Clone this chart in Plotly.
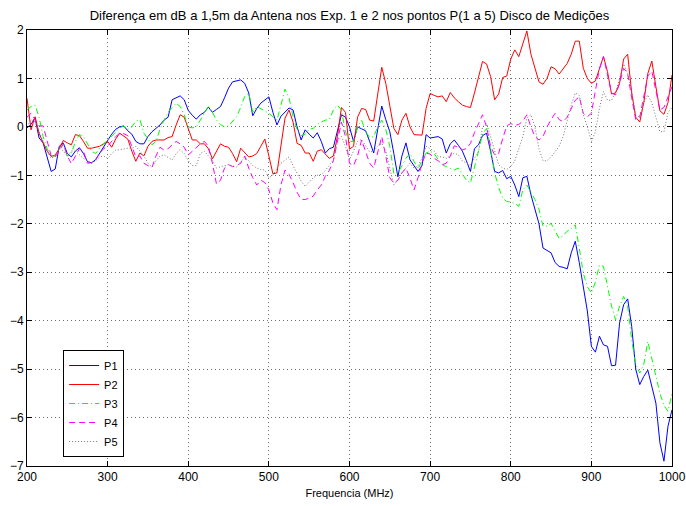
import plotly.graph_objects as go

# Frequency grid (MHz), 5 MHz steps
freq = list(range(200, 1001, 5))

p1 = [-0.02, 0.05, 0.19, -0.23, -0.33, -0.6, -0.92, -0.87, -0.4, -0.33,
      -0.55, -0.62, -0.5, -0.43, -0.55, -0.72, -0.74, -0.68, -0.55, -0.42,
      -0.3, -0.15, -0.05, 0.0, 0.02, -0.08, -0.15, -0.3, -0.35, -0.35,
      -0.2, -0.1, -0.03, 0.04, 0.14, 0.2, 0.56, 0.6, 0.64, 0.56,
      0.34, 0.24, 0.16, 0.25, 0.3, 0.41, 0.3, 0.36, 0.42, 0.6,
      0.8, 0.93, 0.95, 0.97, 0.9, 0.7, 0.23, 0.38, 0.49, 0.56,
      0.62, 0.3, 0.04, 0.22, 0.3, 0.39, 0.35, 0.0, -0.27, -0.06,
      -0.15, -0.23, -0.12, -0.3, -0.54, -0.45, -0.42, -0.1, 0.25, 0.2,
      0.0, -0.3, 0.0, -0.04, -0.08, -0.3, -0.54, -0.05, 0.43, 0.15,
      -0.1, -0.55, -1.03, -0.6, -0.33, -0.68, -0.8, -0.92, -0.8, -0.16,
      -0.23, -0.22, -0.2, -0.25, -0.54, -0.35, -0.27, -0.38, -0.5, -0.7,
      -0.92, -0.45, -0.37, -0.18, -0.13, -0.5, -0.92, -0.95, -0.9, -1.07,
      -1.02, -1.2, -1.44, -1.05, -1.02, -1.4, -1.7, -2.0, -2.5, -2.55,
      -2.6, -2.8, -2.88, -2.9, -2.93, -2.6, -2.36, -2.8, -3.3, -3.8,
      -4.53, -4.65, -4.32, -4.5, -4.53, -4.93, -4.92, -4.05, -3.67, -3.55,
      -4.12, -5.0, -5.32, -5.15, -5.02, -5.35, -5.7, -6.52, -6.9, -6.18,
      -5.84]

p2 = [0.59, -0.06, 0.21, -0.13, -0.33, -0.5, -0.61, -0.58, -0.45, -0.28,
      -0.33, -0.37, -0.16, -0.18, -0.3, -0.44, -0.44, -0.42, -0.4, -0.35,
      -0.3, -0.42, -0.25, -0.13, -0.2, -0.25, -0.5, -0.71, -0.54, -0.6,
      -0.4, -0.3, -0.27, -0.27, -0.27, -0.22, -0.2, 0.04, 0.25, 0.2,
      -0.06, -0.27, -0.27, -0.35, -0.35, -0.45, -0.66, -0.5, -0.35, -0.4,
      -0.42, -0.55, -0.72, -0.44, -0.52, -0.62, -0.6, -0.55, -0.4, -0.25,
      -0.6, -0.97, -0.95, -0.4, 0.18, 0.35, 0.1, -0.34, -0.38, -0.54,
      -0.54, -0.71, -0.5, -0.47, -0.55, -0.65, -0.6, -0.2, 0.4, 0.3,
      -0.46, -0.4, 0.2, 0.38, 0.36, 0.14, 0.12, 0.66, 1.23, 0.9,
      0.4, -0.03, -0.16, 0.14, 0.28, 0.0, -0.16, -0.17, -0.17, 0.38,
      0.69, 0.65, 0.62, 0.64, 0.52, 0.71, 0.6, 0.52, 0.45, 0.42,
      0.4, 0.7, 1.04, 1.35, 1.3, 1.04, 0.56, 0.68, 1.02, 1.05,
      1.4, 1.59, 1.45, 1.73, 1.98, 1.5, 1.24, 0.93, 0.88, 1.0,
      1.24, 1.2, 1.09, 1.2, 1.31, 1.5, 1.77, 1.77, 1.21, 1.0,
      0.9, 0.95, 1.18, 1.45, 1.14, 0.68, 0.7, 0.9, 1.4, 1.5,
      0.7, 0.2, 0.1, 0.5, 1.1, 1.36, 0.83, 0.33, 0.26, 0.5,
      1.07]

p3 = [0.35, 0.42, 0.45, 0.2, -0.2, -0.45, -0.61, -0.6, -0.45, -0.35,
      -0.6, -0.55, -0.3, -0.16, -0.2, -0.35, -0.5, -0.55, -0.45, -0.35,
      -0.28, -0.2, -0.1, -0.02, 0.02, -0.05, 0.0, 0.12, 0.15, -0.13,
      -0.25, -0.37, -0.3, -0.05, 0.14, 0.3, 0.4, 0.49, 0.42, 0.25,
      0.0, -0.02, 0.0, 0.14, 0.3, 0.42, 0.3, 0.14, 0.05, 0.0,
      0.02, 0.12, 0.21, 0.4, 0.63, 0.7, 0.3, 0.42, 0.38, 0.33,
      0.28, 0.2, 0.14, 0.45, 0.78, 0.6, 0.21, -0.05, -0.18, -0.15,
      -0.05, -0.03, 0.05, 0.1, 0.14, 0.15, 0.35, 0.45, 0.35, -0.1,
      -0.3, -0.3, 0.0, 0.14, -0.1, -0.22, -0.2, 0.0, 0.14, -0.05,
      -0.4, -0.96, -0.95, -0.8, -0.65, -0.55, -0.71, -0.87, -0.7, -0.54,
      -0.5, -0.55, -0.68, -0.78, -0.82, -0.85, -0.89, -0.85, -0.98, -1.1,
      -1.16, -0.8, -0.5, -0.15, -0.03, -0.45, -0.95, -1.25, -1.47, -1.54,
      -1.55, -1.58, -1.64, -1.3, -1.2, -1.35, -1.5, -1.7, -2.05, -2.05,
      -1.99, -2.15, -2.3, -2.25, -2.15, -2.1, -2.02, -2.5, -3.02, -3.3,
      -3.43, -3.2, -2.85, -2.88, -3.3, -3.7, -3.98, -3.7, -3.5, -3.7,
      -4.4, -4.9, -5.08, -4.9, -4.43, -4.8, -5.15, -5.5, -5.75, -5.87,
      -5.5]

p4 = [0.2, 0.28, 0.15, 0.02, 0.02, -0.3, -0.6, -0.62, -0.5, -0.35,
      -0.6, -0.76, -0.6, -0.45, -0.5, -0.75, -0.74, -0.68, -0.55, -0.45,
      -0.4, -0.3, -0.2, -0.13, -0.14, -0.18, -0.4, -0.62, -0.6, -0.75,
      -0.8, -0.84, -0.6, -0.42, -0.48, -0.45, -0.37, -0.3, -0.35, -0.42,
      -0.58, -0.5, -0.42, -0.35, -0.3, -0.4, -0.75, -1.18, -1.1, -0.85,
      -0.78, -0.82, -0.8, -0.75, -0.6, -0.85, -1.05, -1.2, -1.1, -1.15,
      -1.3, -1.57, -1.71, -1.2, -0.89, -0.98, -1.15, -1.35, -1.5, -1.5,
      -1.47, -1.43, -1.3, -1.2, -1.02, -0.9, -0.7, -0.3, 0.1, -0.2,
      -0.75, -0.8, -0.6, -0.27, -0.5, -0.75, -0.85, -0.54, -0.2, -0.6,
      -1.05, -1.16, -1.1, -0.95, -0.85, -1.06, -1.3, -1.05, -0.75, -0.54,
      -0.56, -0.65, -0.7, -0.78, -0.75, -0.6, -0.39, -0.42, -0.47, -0.45,
      -0.34, -0.12, 0.05, 0.25, 0.0, -0.4, -0.58, -0.55, -0.24, 0.02,
      0.07, 0.03, 0.05, 0.12, 0.25, 0.0, -0.2, -0.27, -0.2, 0.0,
      0.15, 0.28, 0.15, 0.11, 0.2, 0.38, 0.55, 0.62, 0.28, 0.21,
      0.28, 0.75, 1.2, 1.45, 1.1, 0.7, 0.66, 0.9, 1.21, 1.1,
      0.6, 0.15, 0.2, 0.6, 1.05, 1.15, 0.75, 0.35, 0.4, 0.6,
      0.83]

p5 = [0.0, 0.15, 0.1, -0.1, -0.3, -0.5, -0.65, -0.6, -0.45, -0.5,
      -0.61, -0.5, -0.5, -0.58, -0.65, -0.7, -0.75, -0.7, -0.62, -0.6,
      -0.65, -0.55, -0.48, -0.47, -0.45, -0.44, -0.44, -0.4, -0.5, -0.6,
      -0.75, -0.82, -0.7, -0.6, -0.58, -0.63, -0.68, -0.55, -0.47, -0.55,
      -0.7, -0.8, -0.8, -0.55, -0.5, -0.6, -0.7, -0.85, -0.82, -0.8,
      -0.78, -0.8, -0.83, -0.72, -0.63, -0.7, -0.8, -0.85, -0.88, -0.89,
      -1.05, -1.0, -0.85, -0.75, -0.68, -0.62, -0.8, -0.95, -1.12, -1.23,
      -1.15, -1.05, -1.0, -0.98, -0.9, -0.8, -0.68, -0.3, -0.2, -0.4,
      -0.68, -0.5, -0.3, -0.26, -0.4, -0.52, -0.5, -0.4, -0.34, -0.5,
      -0.85, -1.2, -1.1, -0.95, -0.85, -0.75, -0.85, -0.8, -0.65, -0.4,
      -0.45, -0.5, -0.61, -0.62, -0.65, -0.6, -0.54, -0.58, -0.7, -0.75,
      -0.78, -0.65, -0.51, 0.0, 0.07, -0.2, -0.5, -0.78, -0.85, -0.88,
      -0.82, -0.7, -0.45, -0.2, 0.18, 0.25, 0.0, -0.45, -0.7, -0.7,
      -0.62, -0.5, -0.4, -0.2, 0.15, 0.45, 0.7, 0.65, 0.25, 0.0,
      -0.3, -0.1, 0.38, 0.73, 0.55, 0.55, 0.7, 1.0, 1.3, 1.1,
      0.75, 0.25, 0.2, 0.5, 0.66, 0.5, 0.2, -0.1, -0.1, 0.3,
      0.4]

series = [
    ("P1", p1, "#0000ff", "solid"),
    ("P2", p2, "#ff0000", "solid"),
    ("P3", p3, "#00ff00", "6px,3px,1px,3px"),
    ("P4", p4, "#ff00ff", "6px,4px"),
    ("P5", p5, "#777777", "1px,2px"),
]

x_ticks = [200, 300, 400, 500, 600, 700, 800, 900, 1000]
y_ticks = [-7, -6, -5, -4, -3, -2, -1, 0, 1, 2]

fig = go.Figure()
for name, vals, color, dash in series:
    fig.add_trace(go.Scatter(
        x=freq, y=vals, mode="lines", name=name,
        line=dict(color=color, width=1, dash=dash),
    ))

FAMILY = "Liberation Sans, Arial, sans-serif"
tick_font = dict(family=FAMILY, size=12, color="black")

axis_common = dict(
    showline=True, linecolor="black", linewidth=1, mirror="ticks",
    ticks="inside", ticklen=5, tickcolor="black", tickwidth=1,
    showgrid=True, gridcolor="#707070", griddash="1px,3px", gridwidth=1,
    zeroline=False, tickfont=tick_font, automargin=False,
)

fig.update_layout(
    width=686, height=506,
    margin=dict(l=27, r=14, t=30, b=40),
    paper_bgcolor="white", plot_bgcolor="white",
    font=tick_font,
    title=dict(
        text="Diferença em dB a 1,5m da Antena nos Exp. 1 e 2 nos pontos P(1 a 5) Disco de Medições",
        x=(27 + 672) / 2 / 686, xanchor="center", y=1 - 15 / 506, yanchor="middle",
        font=dict(family=FAMILY, size=13, color="black"),
    ),
    xaxis=dict(range=[200, 1000], tickvals=x_ticks,
               title=dict(text="Frequencia (MHz)", standoff=5,
                          font=dict(family=FAMILY, size=11, color="black")),
               **axis_common),
    yaxis=dict(range=[-7, 2], tickvals=y_ticks, **axis_common),
    legend=dict(
        x=0.056, y=0.266, xanchor="left", yanchor="top",
        bgcolor="white", bordercolor="black", borderwidth=1,
        font=dict(family=FAMILY, size=11, color="black"),
        tracegroupgap=0, itemwidth=30,
    ),
    showlegend=True,
)

fig.write_html("out.html")
